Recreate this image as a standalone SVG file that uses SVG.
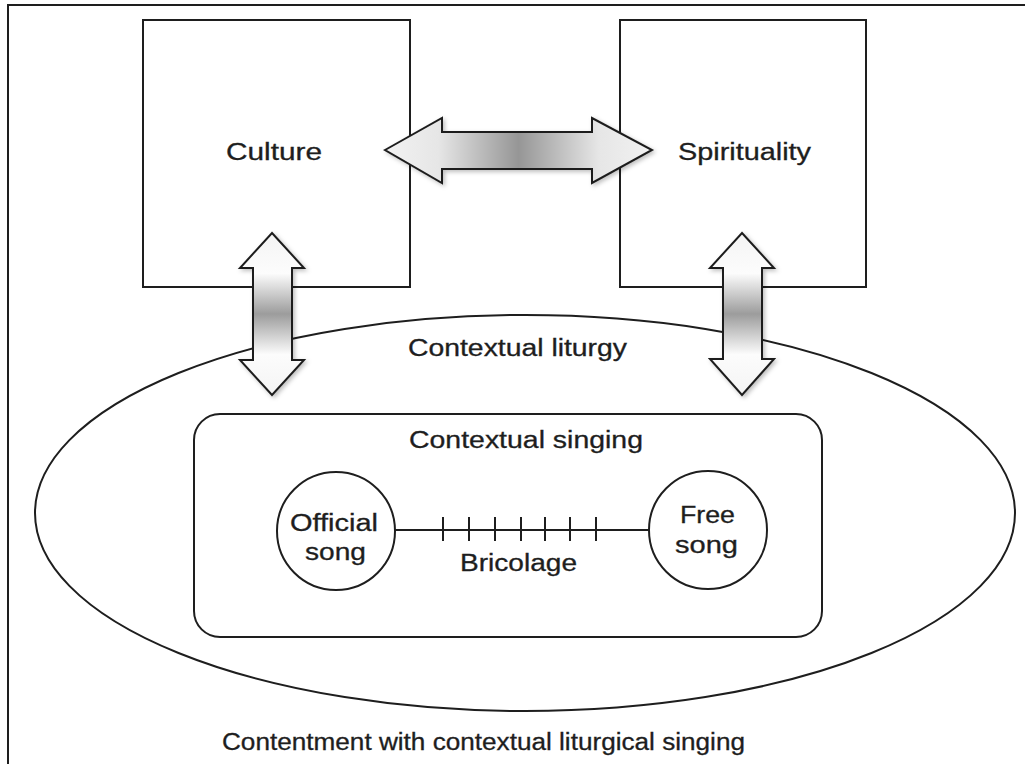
<svg xmlns="http://www.w3.org/2000/svg" width="1025" height="764" viewBox="0 0 1025 764">
<defs>
<style>
.ln{fill:none;stroke:#1e1e1e;stroke-width:2}
.bx{fill:#fff;stroke:#1e1e1e;stroke-width:2}
.ar{stroke:#1e1e1e;stroke-width:2;stroke-linejoin:miter;filter:url(#sh)}
.t{font-family:"Liberation Sans",Arial,sans-serif;font-size:23px;fill:#1e1e1e;stroke:#1e1e1e;stroke-width:0.3;text-anchor:start}
</style>
<linearGradient id="gh" x1="0" y1="0" x2="1" y2="0">
<stop offset="0" stop-color="#f2f2f2"/>
<stop offset="0.2" stop-color="#e6e6e6"/>
<stop offset="0.5" stop-color="#969696"/>
<stop offset="0.8" stop-color="#e6e6e6"/>
<stop offset="1" stop-color="#f2f2f2"/>
</linearGradient>
<linearGradient id="gv" x1="0" y1="0" x2="0" y2="1">
<stop offset="0" stop-color="#f4f4f4"/>
<stop offset="0.25" stop-color="#fcfcfc"/>
<stop offset="0.5" stop-color="#9c9c9c"/>
<stop offset="0.75" stop-color="#fcfcfc"/>
<stop offset="1" stop-color="#f4f4f4"/>
</linearGradient>
<filter id="sh" x="-20%" y="-20%" width="140%" height="140%">
<feDropShadow dx="2" dy="2" stdDeviation="2" flood-color="#000" flood-opacity="0.25"/>
</filter>
</defs>
<rect width="1025" height="764" fill="#fff"/>
<path class="ln" d="M8,764 L8,5 L1025,5"/>

<g id="context-liturgy">
<ellipse class="ln" cx="525" cy="513" rx="490" ry="198"/>
<text class="t" x="408" y="356" textLength="219" lengthAdjust="spacingAndGlyphs">Contextual liturgy</text>
</g>

<g id="culture">
<rect class="bx" x="143" y="20" width="267" height="267"/>
<text class="t" x="226" y="160" textLength="96" lengthAdjust="spacingAndGlyphs">Culture</text>
</g>

<g id="spirituality">
<rect class="bx" x="620" y="20" width="246" height="267"/>
<text class="t" x="678" y="160" textLength="133" lengthAdjust="spacingAndGlyphs">Spirituality</text>
</g>

<g id="contextual-singing">
<rect class="ln" x="194" y="414" width="628" height="223" rx="26" ry="26"/>
<text class="t" x="409" y="448" textLength="234" lengthAdjust="spacingAndGlyphs">Contextual singing</text>
</g>

<g id="official-song">
<circle class="bx" cx="336" cy="531" r="59"/>
<text class="t" x="290" y="531" textLength="88" lengthAdjust="spacingAndGlyphs">Official</text>
<text class="t" x="305" y="560" textLength="61" lengthAdjust="spacingAndGlyphs">song</text>
</g>

<g id="free-song">
<circle class="bx" cx="708" cy="530" r="59"/>
<text class="t" x="680" y="523" textLength="55" lengthAdjust="spacingAndGlyphs">Free</text>
<text class="t" x="675" y="553" textLength="63" lengthAdjust="spacingAndGlyphs">song</text>
</g>

<g id="connectors">
<path class="ar" fill="url(#gh)" d="M385,150 L442,118 L442,132 L592,132 L592,118 L652,150 L592,183 L592,169 L442,169 L442,183 Z"/>
<path class="ar" fill="url(#gv)" d="M272,233 L304,268 L292,268 L292,360 L304,360 L272,395 L240,360 L253,360 L253,268 L240,268 Z"/>
<path class="ar" fill="url(#gv)" d="M742,233 L774,268 L762,268 L762,359 L774,359 L742,395 L710,359 L723,359 L723,268 L710,268 Z"/>
<g id="bricolage">
<path class="ln" d="M395,530 L649,530 M443,517 V541 M469,517 V541 M495,517 V541 M521,517 V541 M545,517 V541 M570,517 V541 M596,517 V541"/>
<text class="t" x="460" y="571" textLength="117" lengthAdjust="spacingAndGlyphs">Bricolage</text>
</g>
</g>

<text class="t" x="222" y="750" textLength="523" lengthAdjust="spacingAndGlyphs">Contentment with contextual liturgical singing</text>
</svg>
